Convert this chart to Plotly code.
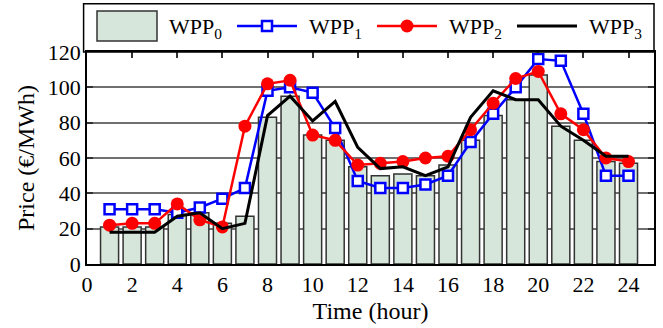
import plotly.graph_objects as go

# Hourly market price under four wind-power-penetration scenarios
hours = list(range(1, 25))
wpp0 = [21, 21, 21, 28, 29, 23, 27, 83, 95, 73, 70, 55,
        50, 51, 50, 56, 70, 84, 93, 107, 78, 70, 58, 57]
wpp1 = [31, 31, 31, 29, 32, 37, 43, 98, 100, 97, 77, 47,
        43, 43, 45, 50, 69, 85, 100, 116, 115, 85, 50, 50]
wpp2 = [22, 23, 23, 34, 25, 21, 78, 102, 104, 73, 70, 56,
        57, 58, 60, 61, 76, 91, 105, 109, 85, 76, 60, 58]
wpp3 = [18, 18, 18, 27, 29, 20, 23, 84, 95, 81, 92, 66,
        54, 55, 50, 55, 83, 98, 93, 93, 78, 70, 61, 61]

series_names = ["WPP<sub>0</sub>", "WPP<sub>1</sub>", "WPP<sub>2</sub>", "WPP<sub>3</sub>"]
x_ticks = list(range(0, 25, 2))
y_ticks = list(range(0, 121, 20))

FONT = "'Liberation Serif', 'Times New Roman', Times, serif"
BAR_FILL = "#d6e6da"
BAR_EDGE = "#333333"
BLUE, RED, BLACK = "#0000ff", "#ff0000", "#000000"

fig = go.Figure()
fig.add_trace(go.Bar(
    x=hours, y=wpp0, name=series_names[0], width=0.8,
    marker=dict(color=BAR_FILL, line=dict(color=BAR_EDGE, width=1.5)),
))
fig.add_trace(go.Scatter(
    x=hours, y=wpp1, name=series_names[1], mode="lines+markers",
    line=dict(color=BLUE, width=2.5),
    marker=dict(symbol="square", size=10, color="white",
                line=dict(width=2.5, color=BLUE)),
))
fig.add_trace(go.Scatter(
    x=hours, y=wpp2, name=series_names[2], mode="lines+markers",
    line=dict(color=RED, width=2.5),
    marker=dict(symbol="circle", size=13, color=RED),
))
fig.add_trace(go.Scatter(
    x=hours, y=wpp3, name=series_names[3], mode="lines",
    line=dict(color=BLACK, width=3),
))

# Legend: a framed strip across the top of the axes, keys laid out in a row
KEY_START, KEY_STEP, KEY_LEN, TEXT_GAP, KEY_MID = 10, 140, 60, 70, 26
shapes = [dict(type="rect", xref="paper", yref="paper",
               x0=-0.006, x1=1.0, y0=1.0, y1=1.228,
               line=dict(color="black", width=1.5), fillcolor="rgba(0,0,0,0)")]
annotations = []
for i, name in enumerate(series_names):
    left = KEY_START + i * KEY_STEP
    mid = left + KEY_LEN / 2
    common = dict(xref="paper", yref="paper", xsizemode="pixel", ysizemode="pixel",
                  xanchor=0, yanchor=1)
    if i == 0:
        shapes.append(dict(type="rect", **common, x0=left, x1=left + KEY_LEN,
                           y0=KEY_MID - 15, y1=KEY_MID + 15,
                           fillcolor=BAR_FILL, line=dict(color=BAR_EDGE, width=1.5)))
    else:
        color = [None, BLUE, RED, BLACK][i]
        width = 3 if i == 3 else 2.5
        shapes.append(dict(type="line", **common, x0=left, x1=left + KEY_LEN,
                           y0=KEY_MID, y1=KEY_MID, line=dict(color=color, width=width)))
        if i == 1:
            shapes.append(dict(type="rect", **common, x0=mid - 5, x1=mid + 5,
                               y0=KEY_MID - 5, y1=KEY_MID + 5, fillcolor="white",
                               line=dict(color=BLUE, width=2.5)))
        elif i == 2:
            shapes.append(dict(type="circle", **common, x0=mid - 6.5, x1=mid + 6.5,
                               y0=KEY_MID - 6.5, y1=KEY_MID + 6.5, fillcolor=RED,
                               line=dict(color=RED, width=0)))
    annotations.append(dict(text=name, xref="paper", yref="paper", x=0, y=1,
                            xshift=left + TEXT_GAP, yshift=KEY_MID - 2,
                            xanchor="left", yanchor="middle", showarrow=False,
                            font=dict(family=FONT, size=22, color="black")))

fig.update_layout(
    width=663, height=328,
    margin=dict(l=87, r=7, t=52, b=64),
    paper_bgcolor="white", plot_bgcolor="white",
    font=dict(family=FONT, size=22, color="black"),
    showlegend=False,
    shapes=shapes,
    annotations=annotations,
    xaxis=dict(
        range=[0, 25.13], tickvals=x_ticks, ticktext=[str(v) for v in x_ticks],
        ticks="inside", ticklen=6, tickwidth=1.5, tickcolor="#333333",
        showline=True, linecolor="black", linewidth=1.5, mirror="ticks",
        showgrid=False, zeroline=False, layer="below traces",
        title=dict(text="Time (hour)", font=dict(family=FONT, size=24), standoff=6),
        tickfont=dict(family=FONT, size=22),
    ),
    yaxis=dict(
        range=[0, 120], tickvals=y_ticks, ticktext=[str(v) for v in y_ticks],
        ticks="inside", ticklen=6, tickwidth=1.5, tickcolor="#333333",
        showline=True, linecolor="black", linewidth=1.5, mirror="ticks",
        showgrid=True, gridcolor="#707070", gridwidth=1.5, zeroline=False,
        title=dict(text="Price (€/MWh)", font=dict(family=FONT, size=24), standoff=6),
        tickfont=dict(family=FONT, size=22),
    ),
)

fig.write_html("out.html")
